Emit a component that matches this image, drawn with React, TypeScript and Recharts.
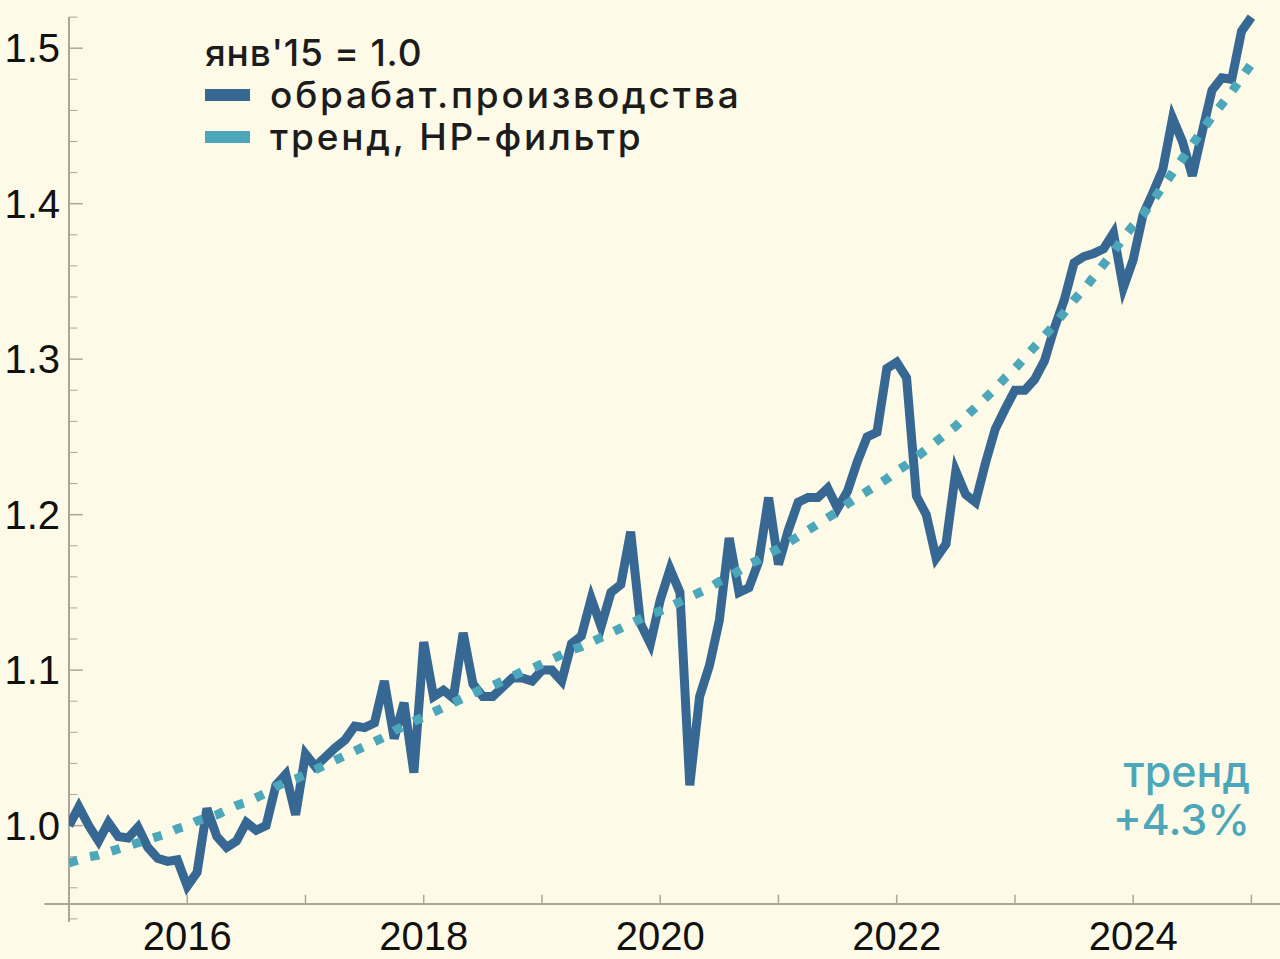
import { LineChart, Line, XAxis, YAxis, ReferenceLine } from "recharts";

// monthly index, jan'15 = 1.0 (Jan 2015 .. Jan 2025)
const manufacturing = [
  1.0, 1.012, 1.0, 0.99, 1.002, 0.993, 0.992, 0.999, 0.986, 0.979, 0.977, 0.978,
  0.961, 0.97, 1.011, 0.993, 0.986, 0.99, 1.002, 0.997, 1.0, 1.026, 1.033, 1.007,
  1.046, 1.038, 1.044, 1.05, 1.055, 1.064, 1.063, 1.066, 1.093, 1.056, 1.079, 1.034,
  1.118, 1.083, 1.087, 1.082, 1.124, 1.091, 1.083, 1.083, 1.089, 1.095, 1.095, 1.093,
  1.1, 1.1, 1.093, 1.117, 1.122, 1.146, 1.128, 1.15, 1.155, 1.189, 1.13, 1.117,
  1.145, 1.165, 1.15, 1.026, 1.083, 1.103, 1.132, 1.185, 1.15, 1.153, 1.17, 1.211,
  1.168, 1.19, 1.208, 1.211, 1.211, 1.217, 1.204, 1.215, 1.234, 1.25, 1.253, 1.294,
  1.298, 1.288, 1.212, 1.2, 1.172, 1.181, 1.228, 1.213, 1.208, 1.233, 1.255, 1.268,
  1.28, 1.28, 1.287, 1.299, 1.32, 1.338, 1.362, 1.366, 1.368, 1.371, 1.381, 1.346,
  1.364, 1.393, 1.407, 1.422, 1.455, 1.44, 1.418, 1.446, 1.473, 1.481, 1.48, 1.511,
  1.52,
];

// HP-filter trend
const trend = [
  0.976, 0.978, 0.98, 0.981, 0.983, 0.985, 0.987, 0.989, 0.991, 0.993, 0.995, 0.998,
  1.0, 1.003, 1.005, 1.007, 1.01, 1.013, 1.015, 1.018, 1.021, 1.025, 1.028, 1.03,
  1.033, 1.036, 1.039, 1.042, 1.045, 1.048, 1.051, 1.054, 1.057, 1.061, 1.064, 1.067,
  1.07, 1.073, 1.076, 1.079, 1.082, 1.085, 1.088, 1.09, 1.093, 1.096, 1.099, 1.101,
  1.104, 1.107, 1.11, 1.113, 1.115, 1.118, 1.121, 1.124, 1.127, 1.13, 1.133, 1.136,
  1.138, 1.141, 1.144, 1.147, 1.15, 1.153, 1.157, 1.16, 1.164, 1.168, 1.171, 1.175,
  1.178, 1.182, 1.186, 1.19, 1.194, 1.198, 1.202, 1.207, 1.211, 1.215, 1.219, 1.223,
  1.228, 1.232, 1.237, 1.242, 1.247, 1.252, 1.257, 1.263, 1.269, 1.275, 1.281, 1.288,
  1.294, 1.301, 1.308, 1.315, 1.322, 1.33, 1.338, 1.345, 1.353, 1.361, 1.369, 1.378,
  1.386, 1.393, 1.402, 1.411, 1.42, 1.429, 1.438, 1.447, 1.456, 1.464, 1.472, 1.481,
  1.49,
];

const yearTicks = [12, 36, 60, 84, 108];
const yearLabels = ["2016", "2018", "2020", "2022", "2024"];
const allYearTicks = [12, 24, 36, 48, 60, 72, 84, 96, 108, 120];
const yTicks = [1.0, 1.1, 1.2, 1.3, 1.4, 1.5];
const yMinorTicks = [
  0.94, 0.96, 0.98, 1.02, 1.04, 1.06, 1.08, 1.12, 1.14, 1.16, 1.18, 1.22, 1.24,
  1.26, 1.28, 1.32, 1.34, 1.36, 1.38, 1.42, 1.44, 1.46, 1.48, 1.52,
];

const data = manufacturing.map((v, i) => ({ i, v, t: trend[i] }));

const BG = "#fdfbe7";
const AXIS = "#aaa69c";
const MAIN = "#376893";
const TREND = "#4ba7b9";
const X_AXIS_AT = 0.9495;

export default function App() {
  return (
    <div
      style={{
        position: "absolute",
        left: 0,
        top: 0,
        width: 1280,
        height: 959,
        background: BG,
        overflow: "hidden",
      }}
    >
      <LineChart
        width={1280}
        height={959}
        data={data}
        margin={{ top: 0, right: 0, bottom: 0, left: 0 }}
      >
        <XAxis
          dataKey="i"
          type="number"
          domain={[0, 122.9]}
          allowDataOverflow
          ticks={yearTicks}
          tickFormatter={(v: number) => yearLabels[yearTicks.indexOf(v)]}
          axisLine={false}
          tickLine={false}
          tickSize={0}
          tickMargin={0}
          height={37}
          tick={{ fill: "#111", fontSize: 40, fontFamily: "Liberation Sans" }}
        />
        <YAxis
          type="number"
          domain={[0.938, 1.531]}
          allowDataOverflow
          ticks={yTicks}
          tickFormatter={(v: number) => v.toFixed(1)}
          axisLine={false}
          tickLine={false}
          tickSize={0}
          tickMargin={9}
          width={69}
          tick={{ fill: "#111", fontSize: 40, fontFamily: "Liberation Sans" }}
        />

        {/* axes drawn Mathematica-style */}
        <ReferenceLine
          segment={[{ x: -2.5, y: X_AXIS_AT }, { x: 122.9, y: X_AXIS_AT }]}
          stroke={AXIS}
          strokeWidth={2}
          ifOverflow="visible"
        />
        <ReferenceLine
          segment={[{ x: 0, y: 0.938 }, { x: 0, y: 1.52 }]}
          stroke={AXIS}
          strokeWidth={2}
          ifOverflow="visible"
        />
        {yTicks.map((t) => (
          <ReferenceLine
            key={"ym" + t}
            segment={[{ x: 0, y: t }, { x: 1.4, y: t }]}
            stroke={AXIS}
            strokeWidth={1.5}
            ifOverflow="visible"
          />
        ))}
        {yMinorTicks.map((t) => (
          <ReferenceLine
            key={"yn" + t}
            segment={[{ x: 0, y: t }, { x: 0.85, y: t }]}
            stroke={AXIS}
            strokeWidth={1}
            ifOverflow="visible"
          />
        ))}
        {allYearTicks.map((t) => (
          <ReferenceLine
            key={"x" + t}
            segment={[{ x: t, y: X_AXIS_AT }, { x: t, y: X_AXIS_AT + 0.006 }]}
            stroke={AXIS}
            strokeWidth={1.5}
            ifOverflow="visible"
          />
        ))}

        <Line
          type="linear"
          dataKey="v"
          stroke={MAIN}
          strokeWidth={9}
          dot={false}
          activeDot={false}
          isAnimationActive={false}
        />
        <Line
          type="linear"
          dataKey="t"
          stroke={TREND}
          strokeWidth={9}
          strokeDasharray="9 13"
          dot={false}
          activeDot={false}
          isAnimationActive={false}
        />
      </LineChart>

      {/* legend */}
      <div
        style={{
          position: "absolute",
          left: 205,
          top: 32,
          fontFamily: "Inter",
          fontWeight: 500,
          fontSize: 37,
          color: "#1c1c1c",
          lineHeight: "42px",
        }}
      >
        <div style={{ letterSpacing: 0.8 }}>янв'15 = 1.0</div>
        {[
          { label: "обрабат.производства", color: MAIN },
          { label: "тренд, HP-фильтр", color: TREND },
        ].map((it) => (
          <div
            key={it.label}
            style={{ display: "flex", alignItems: "center", letterSpacing: 2.8 }}
          >
            <span
              style={{
                display: "inline-block",
                width: 45,
                height: 12,
                background: it.color,
                marginRight: 20,
              }}
            />
            {it.label}
          </div>
        ))}
      </div>

      <div
        style={{
          position: "absolute",
          right: 30,
          top: 747,
          fontFamily: "Inter",
          fontWeight: 500,
          fontSize: 43,
          lineHeight: "48px",
          color: TREND,
          textAlign: "right",
        }}
      >
        <div>тренд</div>
        <div>+4.3%</div>
      </div>
    </div>
  );
}
